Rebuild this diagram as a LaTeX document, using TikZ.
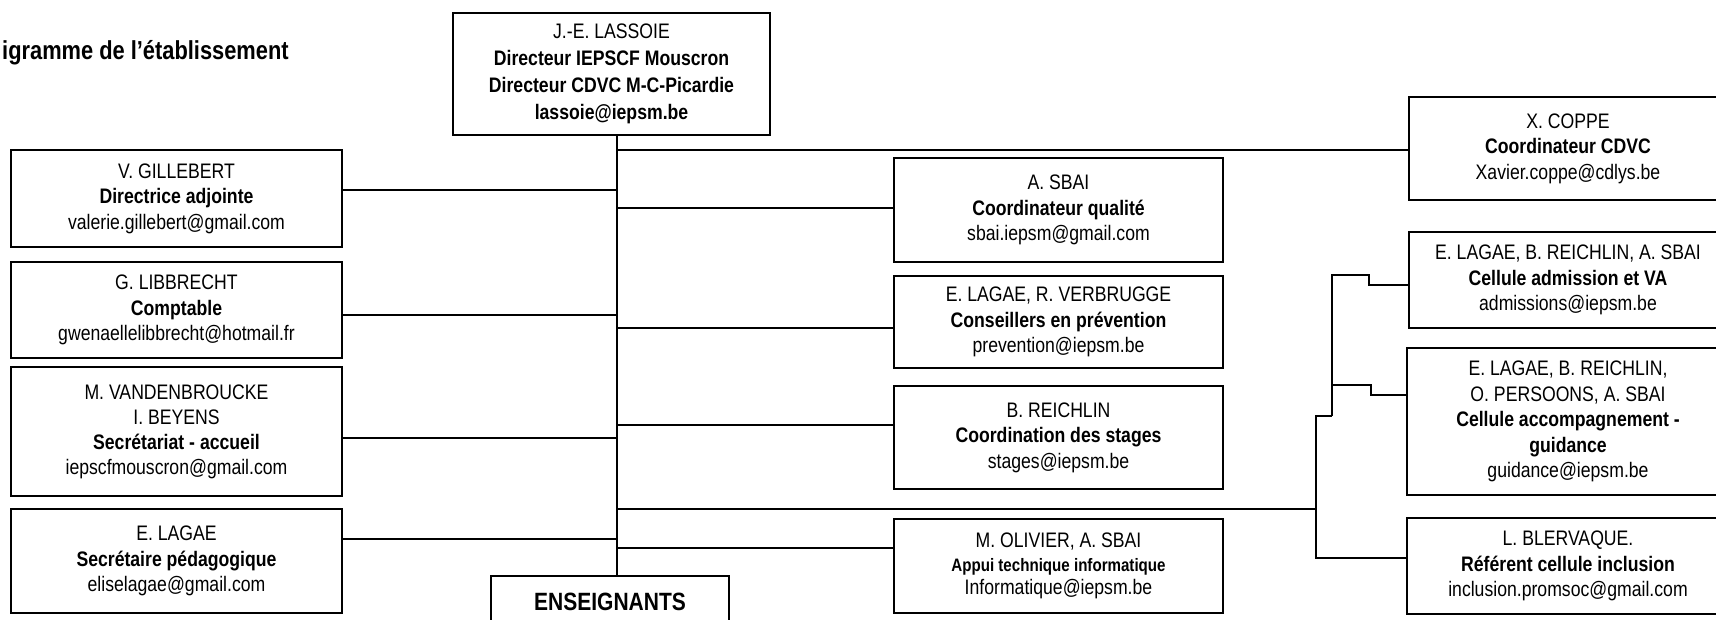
\documentclass[tikz,border=0pt]{standalone}
\usepackage{fontspec}
\setmainfont{Liberation Sans}[FakeStretch=0.84]
\begin{document}
\begin{tikzpicture}[x=1pt,y=-1pt,
  box/.style={draw=black, line width=1.8pt, inner sep=0pt, align=center,
    font=\fontsize{21}{25.5}\selectfont, fill=white},
  link/.style={draw=black, line width=1.7pt}]
\useasboundingbox (0,0) rectangle (1716,620);
\clip (0,0) rectangle (1716,620);
\fill[white] (0,0) rectangle (1716,620);

% title
\node[anchor=base west, inner sep=0pt, font=\bfseries\fontsize{26}{30}\selectfont] (title) at (2,60) {igramme de l’établissement};

% top
\node[box, minimum width=317pt, minimum height=122pt, font=\fontsize{21}{27}\selectfont] (lassoie) at (611.5,74)
  {J.-E. LASSOIE\\ \textbf{Directeur IEPSCF Mouscron}\\ \textbf{Directeur CDVC M-C-Picardie}\\ \textbf{lassoie@iepsm.be}};

% left column
\node[box, minimum width=331pt, minimum height=97pt] (gil) at (176.5,198.5)
  {V. GILLEBERT\\ \textbf{Directrice adjointe}\\ valerie.gillebert@gmail.com};
\node[box, minimum width=331pt, minimum height=96pt] (lib) at (176.5,310)
  {G. LIBBRECHT\\ \textbf{Comptable}\\ gwenaellelibbrecht@hotmail.fr};
\node[box, minimum width=331pt, minimum height=129pt, font=\fontsize{21}{25}\selectfont] (van) at (176.5,431.5)
  {M. VANDENBROUCKE\\ I. BEYENS\\ \textbf{Secrétariat - accueil}\\ iepscfmouscron@gmail.com};
\node[box, minimum width=331pt, minimum height=104pt] (lag) at (176.5,561)
  {E. LAGAE\\ \textbf{Secrétaire pédagogique}\\ eliselagae@gmail.com};

% bottom
\node[box, minimum width=238pt, minimum height=52pt, font=\bfseries\fontsize{25}{30}\selectfont] (ens) at (610,602) {ENSEIGNANTS};

% middle column
\node[box, minimum width=329pt, minimum height=104pt] (sbai) at (1058.5,210)
  {A. SBAI\\ \textbf{Coordinateur qualité}\\ sbai.iepsm@gmail.com};
\node[box, minimum width=329pt, minimum height=92pt] (prev) at (1058.5,322)
  {E. LAGAE, R. VERBRUGGE\\ \textbf{Conseillers en prévention}\\ prevention@iepsm.be};
\node[box, minimum width=329pt, minimum height=103pt] (stag) at (1058.5,437.5)
  {B. REICHLIN\\ \textbf{Coordination des stages}\\ stages@iepsm.be};
\node[box, minimum width=329pt, minimum height=94pt, font=\fontsize{21}{23.5}\selectfont] (info) at (1058.5,566)
  {M. OLIVIER, A. SBAI\\ {\bfseries\fontsize{18}{23.5}\selectfont Appui technique informatique}\\ Informatique@iepsm.be};

% right column
\node[box, minimum width=318pt, minimum height=103pt] (coppe) at (1568,148.5)
  {X. COPPE\\ \textbf{Coordinateur CDVC}\\ Xavier.coppe@cdlys.be};
\node[box, minimum width=318pt, minimum height=96pt] (adm) at (1568,280)
  {E. LAGAE, B. REICHLIN, A. SBAI\\ \textbf{Cellule admission et VA}\\ admissions@iepsm.be};
\node[box, minimum width=322pt, minimum height=147pt] (gui) at (1568,421.5)
  {E. LAGAE, B. REICHLIN,\\ O. PERSOONS, A. SBAI\\ \textbf{Cellule accompagnement -}\\ \textbf{guidance}\\ guidance@iepsm.be};
\node[box, minimum width=322pt, minimum height=96pt] (bler) at (1568,566)
  {L. BLERVAQUE.\\ \textbf{Référent cellule inclusion}\\ inclusion.promsoc@gmail.com};

% trunk
\coordinate (ttop) at (617,135);
\draw[link] (lassoie.south -| ttop) -- (ens.north -| ttop);

% trunk taps
\coordinate (tc) at (617,150);
\coordinate (tg) at (617,190);
\coordinate (ts) at (617,208);
\coordinate (tl) at (617,315);
\coordinate (tp) at (617,328);
\coordinate (tst) at (617,425);
\coordinate (tv) at (617,438);
\coordinate (tr) at (617,509);
\coordinate (te) at (617,539);
\coordinate (ti) at (617,548);

\draw[link] (tc) -- (coppe.west |- tc);
\draw[link] (gil.east |- tg) -- (tg);
\draw[link] (ts) -- (sbai.west |- ts);
\draw[link] (lib.east |- tl) -- (tl);
\draw[link] (tp) -- (prev.west |- tp);
\draw[link] (tst) -- (stag.west |- tst);
\draw[link] (van.east |- tv) -- (tv);
\draw[link] (lag.east |- te) -- (te);
\draw[link] (ti) -- (info.west |- ti);

% right cluster
\coordinate (cr) at (1316,509);
\coordinate (cq) at (1316,416);
\coordinate (cb) at (1316,558);
\coordinate (cq2) at (1332,416);
\coordinate (cu) at (1332,275);
\coordinate (cm) at (1332,385);
\coordinate (a1) at (1369,275);
\coordinate (a2) at (1369,285);
\coordinate (g1) at (1371,385);
\coordinate (g2) at (1371,395);
\draw[link] (tr) -- (cr);
\draw[link] (cq2) -- (cq) -- (cb) -- (bler.west |- cb);
\draw[link] (cq2) -- (cu) -- (a1) -- (a2) -- (adm.west |- a2);
\draw[link] (cm) -- (g1) -- (g2) -- (gui.west |- g2);
\end{tikzpicture}
\end{document}
